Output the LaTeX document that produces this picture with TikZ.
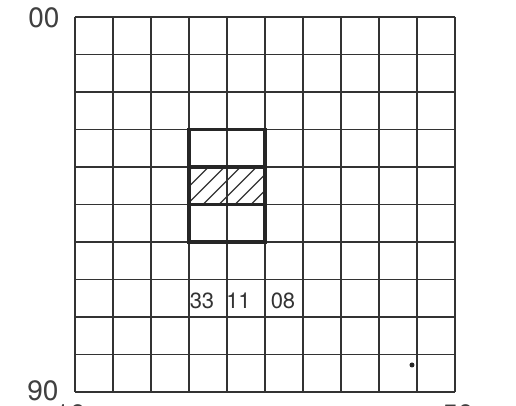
\documentclass[tikz,border=0pt]{standalone}
\usepackage{fontspec}
\setmainfont{TeX Gyre Heros}
\begin{document}
\begin{tikzpicture}[x=0.5pt,y=-0.5pt,
  gridline/.style={draw=black!80, line width=0.8pt},
  boldline/.style={draw=black!85, line width=1.6pt},
  hatchline/.style={draw=black!80, line width=0.6pt},
  lbl/.style={text=black!75, font=\fontsize{14}{14}\selectfont, inner sep=0pt},
  cellnum/.style={text=black!80, font=\fontsize{11}{11}\selectfont, inner sep=0pt}]
\useasboundingbox (0,0) rectangle (516,406);
\fill[white] (0,0) rectangle (516,406);
% grid
\foreach \i in {0,...,10} \draw[gridline] ({75+38*\i},17) -- ({75+38*\i},392);
\foreach \j in {0,...,10} \draw[gridline] (75,{17+37.5*\j}) -- (455,{17+37.5*\j});
% hatching
\begin{scope}
  \clip (189,167) rectangle (265,204.5);
  \foreach \k in {-34,-18,...,90}
    \draw[hatchline] ({189+\k},204.5) -- ({189+\k+37.5},167);
\end{scope}
% bold box
\draw[boldline] (189,129.5) rectangle (265,242);
\draw[boldline] (189,167) -- (265,167);
\draw[boldline] (189,204.5) -- (265,204.5);
% labels
\node[lbl] (n00) at (44,18) {00};
\node[lbl] (n90) at (43,391) {90};
\node[lbl] (n10) at (70,415) {10};
\node[lbl] (n50) at (458,415) {50};
\node[cellnum] (c33) at (202,301) {33};
\node[cellnum] (c11) at (238.5,301) {11};
\node[cellnum] (c08) at (283,301) {08};
\fill[black!85] (412,365) circle (2.5);
\end{tikzpicture}
\end{document}
